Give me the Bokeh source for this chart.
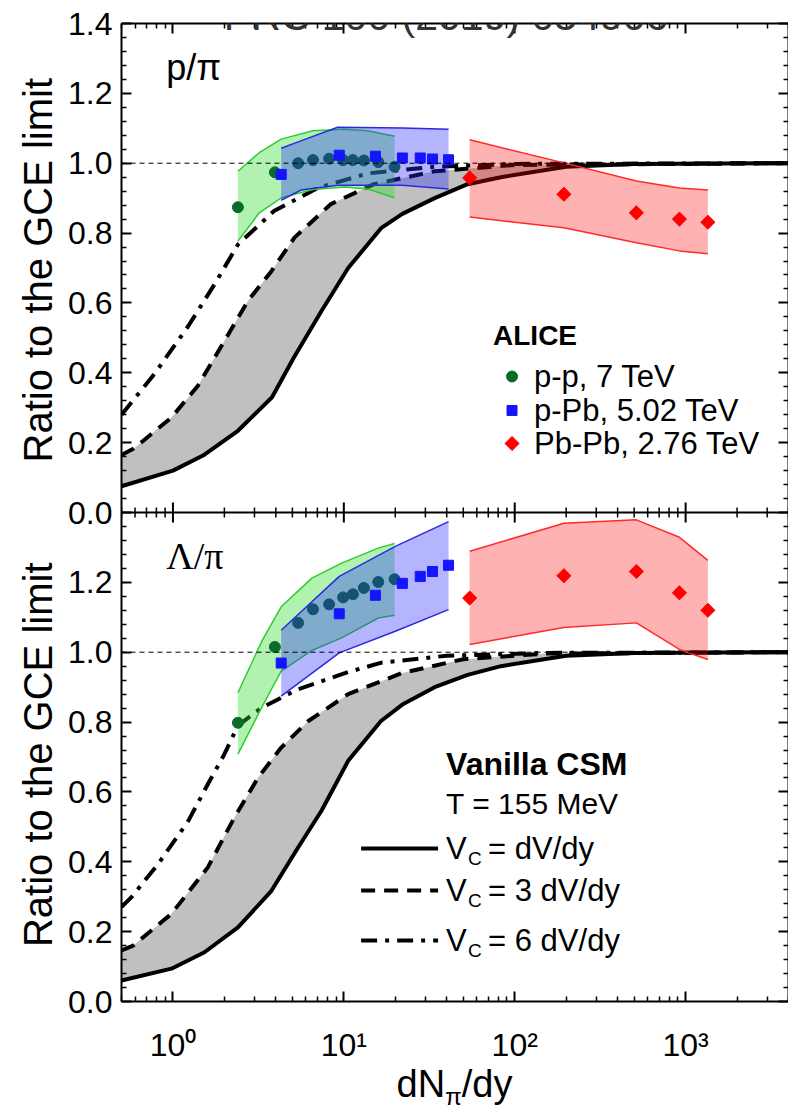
import numpy as np
from bokeh.plotting import figure
from bokeh.layouts import column
from bokeh.models import (Range1d, LinearAxis, LogAxis, FixedTicker,
                          CustomJSTickFormatter, Span, Label, Div)
from bokeh.embed import file_html
from bokeh.resources import INLINE

FONT = "Liberation Sans"
SERIF = "Liberation Serif"

# ---------------- data ----------------
# Vanilla CSM curves, p/pi (top panel)
pp_solid_x = [0.5, 1.0, 1.5, 2.4, 3.8, 5.1, 7.4, 10.6, 16.6, 22, 34, 53, 83, 200, 500, 4000]
pp_solid_y = [0.075, 0.12, 0.163, 0.234, 0.33, 0.444, 0.577, 0.70, 0.815, 0.855, 0.90, 0.94, 0.96, 0.99, 0.998, 1.0]
pp_dash_x = [0.5, 0.59, 0.98, 1.4, 2.0, 2.75, 3.77, 5.14, 8.4, 15, 34, 100, 4000]
pp_dash_y = [0.165, 0.183, 0.272, 0.363, 0.491, 0.606, 0.691, 0.787, 0.883, 0.94, 0.977, 0.995, 1.0]
pp_dd_x = [0.5, 0.78, 1.23, 1.75, 2.4, 3.9, 7.1, 13.9, 34, 100, 4000]
pp_dd_y = [0.28, 0.397, 0.534, 0.653, 0.767, 0.863, 0.93, 0.971, 0.99, 0.998, 1.0]

# Vanilla CSM curves, Lambda/pi (bottom panel)
lp_solid_x = [0.5, 0.98, 1.53, 2.4, 3.77, 5.4, 7.4, 10.6, 16.5, 22, 34, 53, 83, 200, 500, 4000]
lp_solid_y = [0.06, 0.094, 0.141, 0.212, 0.317, 0.441, 0.546, 0.689, 0.803, 0.85, 0.90, 0.935, 0.96, 0.99, 0.998, 1.0]
lp_dash_x = [0.5, 0.585, 0.98, 1.6, 2.29, 3.15, 4.3, 6.2, 10.6, 16.6, 21.7, 50, 150, 4000]
lp_dash_y = [0.146, 0.16, 0.251, 0.384, 0.527, 0.641, 0.727, 0.803, 0.88, 0.917, 0.94, 0.98, 0.996, 1.0]
lp_dd_x = [0.5, 0.57, 0.82, 1.23, 1.6, 2.0, 2.4, 3.3, 5.4, 10.6, 16.6, 40, 150, 4000]
lp_dd_y = [0.27, 0.298, 0.394, 0.517, 0.622, 0.708, 0.79, 0.841, 0.894, 0.943, 0.97, 0.99, 0.998, 1.0]

# ALICE p-p 7 TeV
ppx = [2.4, 3.95, 5.4, 6.6, 8.2, 9.9, 11.3, 13.1, 15.9, 19.8]
ppy_top = [0.874, 0.974, 1.0, 1.009, 1.013, 1.009, 1.009, 1.008, 1.003, 0.99]
ppy_bot = [0.798, 1.015, 1.084, 1.123, 1.137, 1.157, 1.166, 1.184, 1.201, 1.209]
pp_band_x_top = [2.4, 3.2, 4.3, 6.6, 10.1, 13.8, 19.8]
pp_band_lo_top = [0.777, 0.858, 0.901, 0.925, 0.932, 0.926, 0.901]
pp_band_hi_top = [0.977, 1.03, 1.069, 1.093, 1.097, 1.093, 1.077]
pp_band_x_bot = [2.4, 3.3, 4.3, 6.5, 9.7, 15.9, 19.8]
pp_band_lo_bot = [0.708, 0.841, 0.946, 1.005, 1.041, 1.098, 1.106]
pp_band_hi_bot = [0.884, 1.03, 1.13, 1.212, 1.255, 1.298, 1.311]

# ALICE p-Pb 5.02 TeV
ppbx = [4.3, 9.4, 15.3, 22.0, 28.0, 33.0, 41.0]
ppby_top = [0.968, 1.023, 1.02, 1.015, 1.015, 1.012, 1.01]
ppby_bot = [0.969, 1.11, 1.163, 1.197, 1.217, 1.231, 1.249]
ppb_band_x_top = [4.3, 5.6, 9.2, 22, 41]
ppb_band_lo_top = [0.894, 0.923, 0.937, 0.937, 0.926]
ppb_band_hi_top = [1.043, 1.064, 1.103, 1.101, 1.097]
ppb_band_x_bot = [4.3, 9.4, 20, 41]
ppb_band_lo_bot = [0.874, 0.998, 1.06, 1.122]
ppb_band_hi_bot = [1.063, 1.217, 1.303, 1.374]

# ALICE Pb-Pb 2.76 TeV
pbx = [54.5, 194, 515, 920, 1350]
pby_top = [0.958, 0.911, 0.858, 0.84, 0.831]
pb_band_lo_top = [0.846, 0.815, 0.772, 0.749, 0.741]
pb_band_hi_top = [1.067, 1.001, 0.949, 0.929, 0.923]
pby_bot = [1.155, 1.219, 1.231, 1.17, 1.12]
pb_band_lo_bot = [1.022, 1.071, 1.084, 1.008, 0.979]
pb_band_hi_bot = [1.289, 1.369, 1.379, 1.329, 1.263]

X_MAJOR = [1, 10, 100, 1000]
PANEL_H = 1.4          # each panel spans 0 .. 1.4 on its own y axis
Y_TITLE = "Ratio to the GCE limit"

# ---------------- geometry helpers ----------------
XMIN, XMAX = 0.5, 4000
X_MINOR = [m * 10 ** k for k in range(-1, 4) for m in range(2, 10) if XMIN <= m * 10 ** k <= XMAX]
Y_MAJOR = [round(0.2 * i, 1) for i in range(15)]
Y_MINOR = [round(i * 0.04, 2) for i in range(71) if i % 5 != 0]
FRAME_TOP, FRAME_H = 23, 978
X0PX, DEC = 171.7, 171.0
PXU = FRAME_H / (2 * PANEL_H)


def xpx(px):
    return 10 ** ((px - X0PX) / DEC)


def Y(py):
    return (FRAME_TOP + FRAME_H - py) / PXU


def up(vals):
    return [v + PANEL_H for v in vals]


GREEN_FILL, GREEN_LINE, DKGREEN = "#33dd33", "#2ecc2e", "#0b6b2b"
BLUE_FILL, BLUE_LINE, BLUE_MK = "#2828ff", "#2a2ae0", "#1414ff"
RED_FILL, RED_LINE, RED_MK = "#ff0000", "#ff2a2a", "#ff0000"


def style_axis(ax, labels):
    ax.axis_line_width = 2
    ax.axis_line_color = "black"
    ax.major_tick_line_width = 2
    ax.minor_tick_line_width = 1.5
    ax.major_tick_in = 10
    ax.major_tick_out = 0
    ax.minor_tick_in = 5
    ax.minor_tick_out = 0
    if labels:
        ax.major_label_text_font = FONT
        ax.major_label_text_font_size = "32px"
        ax.major_label_text_color = "black"
        ax.major_label_standoff = 9
    else:
        ax.formatter = CustomJSTickFormatter(code="return ''")
        ax.major_label_text_font_size = "0px"
        ax.major_label_standoff = 0


p = figure(x_axis_type="log", x_range=Range1d(XMIN, XMAX), y_range=Range1d(0, 2 * PANEL_H),
           frame_width=667, frame_height=FRAME_H, min_border_left=121, min_border_right=0,
           min_border_top=FRAME_TOP, min_border_bottom=64,
           x_axis_location=None, y_axis_location=None,
           toolbar_location=None, output_backend="svg", outline_line_color=None)
p.grid.visible = False

# left axis: one title per panel (both panels have the same title, centred on each panel)
yl = LinearAxis(ticker=FixedTicker(ticks=Y_MAJOR, minor_ticks=Y_MINOR),
                axis_label=Y_TITLE + "\u00a0" * 9 + Y_TITLE)
style_axis(yl, True)
yl.formatter = CustomJSTickFormatter(code="""
    const v = tick > 1.39 ? tick - 1.4 : tick;
    return Math.abs(v).toFixed(1);""")
yl.axis_label_text_font = FONT
yl.axis_label_text_font_size = "40px"
yl.axis_label_text_font_style = "normal"
yl.axis_label_text_color = "black"
yl.axis_label_standoff = 5
p.add_layout(yl, "left")
yr = LinearAxis(ticker=FixedTicker(ticks=Y_MAJOR, minor_ticks=Y_MINOR))
style_axis(yr, False)
p.add_layout(yr, "right")
xt = LogAxis(ticker=FixedTicker(ticks=X_MAJOR, minor_ticks=X_MINOR))
style_axis(xt, False)
p.add_layout(xt, "above")
xb = LogAxis(ticker=FixedTicker(ticks=X_MAJOR, minor_ticks=X_MINOR))
style_axis(xb, True)
xb.formatter = CustomJSTickFormatter(code="""
    const e = Math.round(Math.log10(tick));
    const sup = {"-1": "\u207b\u00b9", "0": "\u2070", "1": "\u00b9", "2": "\u00b2", "3": "\u00b3"};
    return "10" + sup[String(e)];""")
xb.major_label_standoff = 25
p.add_layout(xb, "below")

# junction between the two panels: axis line with ticks on both sides
p.add_layout(Span(location=PANEL_H, dimension="width", line_color="black", line_width=2))
maj_len, min_len = 10 / PXU, 5 / PXU
p.segment(x0=X_MAJOR, x1=X_MAJOR, y0=[PANEL_H - maj_len] * len(X_MAJOR),
          y1=[PANEL_H + maj_len] * len(X_MAJOR), line_color="black", line_width=2)
p.segment(x0=X_MINOR, x1=X_MINOR, y0=[PANEL_H - min_len] * len(X_MINOR),
          y1=[PANEL_H + min_len] * len(X_MINOR), line_color="black", line_width=1.5)


def draw_data(sx, sy, dx, dy, ddx, ddy,
              ppbx_, pplo, pphi, ppy,
              ppbbx, ppblo, ppbhi, ppby,
              pblo, pbhi, pby, ref):
    p.patch(x=list(sx) + list(dx)[::-1], y=list(sy) + list(dy)[::-1],
            fill_color="#c0c0c0", line_color=None)
    p.line(sx, sy, line_width=4, color="black")
    p.line(dx, dy, line_width=4, color="black", line_dash="14 9")
    p.line(ddx, ddy, line_width=4, color="black", line_dash="16 8 4 8")
    p.add_layout(Span(location=ref, dimension="width", line_color="black",
                      line_width=1, line_dash="5 4"))
    # p-p
    p.varea(x=ppbx_, y1=pplo, y2=pphi, fill_color=GREEN_FILL, fill_alpha=0.38)
    p.line(ppbx_, pplo, color=GREEN_LINE, line_width=1.5)
    p.line(ppbx_, pphi, color=GREEN_LINE, line_width=1.5)
    p.scatter(ppx, ppy, marker="circle", size=11, color=DKGREEN)
    # p-Pb
    p.varea(x=ppbbx, y1=ppblo, y2=ppbhi, fill_color=BLUE_FILL, fill_alpha=0.35)
    p.line(ppbbx, ppblo, color=BLUE_LINE, line_width=1.5)
    p.line(ppbbx, ppbhi, color=BLUE_LINE, line_width=1.5)
    p.scatter(ppbx, ppby, marker="square", size=10, color=BLUE_MK)
    # Pb-Pb
    p.varea(x=pbx, y1=pblo, y2=pbhi, fill_color=RED_FILL, fill_alpha=0.3)
    p.line(pbx, pblo, color=RED_LINE, line_width=1.5)
    p.line(pbx, pbhi, color=RED_LINE, line_width=1.5)
    p.scatter(pbx, pby, marker="square", angle=np.pi / 4, size=10, color=RED_MK)


def lab(x, y, text, size, font=FONT, style="normal", align="left",
        baseline="middle", color="black"):
    p.add_layout(Label(x=x, y=y, text=text, text_font=font, text_font_size=size,
                       text_font_style=style, text_align=align, text_baseline=baseline,
                       text_color=color))


# bottom panel (Lambda/pi)
draw_data(lp_solid_x, lp_solid_y, lp_dash_x, lp_dash_y, lp_dd_x, lp_dd_y,
          pp_band_x_bot, pp_band_lo_bot, pp_band_hi_bot, ppy_bot,
          ppb_band_x_bot, ppb_band_lo_bot, ppb_band_hi_bot, ppby_bot,
          pb_band_lo_bot, pb_band_hi_bot, pby_bot, 1.0)
# top panel (p/pi), shifted up by one panel height
draw_data(pp_solid_x, up(pp_solid_y), pp_dash_x, up(pp_dash_y), pp_dd_x, up(pp_dd_y),
          pp_band_x_top, up(pp_band_lo_top), up(pp_band_hi_top), up(ppy_top),
          ppb_band_x_top, up(ppb_band_lo_top), up(ppb_band_hi_top), up(ppby_top),
          up(pb_band_lo_top), up(pb_band_hi_top), up(pby_top), 1.0 + PANEL_H)

# title (cut at the top edge, as in the original)
lab(xpx(445), Y(15), "PRC 100 (2019) 054906", "41px", align="center",
    baseline="alphabetic", color="#333333")

# panel labels
lab(xpx(165), Y(67), "p/\u03c0", "36px")
lab(xpx(165), Y(555), "\u039b/\u03c0", "38px", font=SERIF)

# ALICE legend (top panel)
lab(xpx(492), Y(335), "ALICE", "28px", style="bold")
p.scatter([xpx(511)], [Y(376)], marker="circle", size=11, color=DKGREEN)
p.scatter([xpx(511)], [Y(410)], marker="square", size=10, color=BLUE_MK)
p.scatter([xpx(511)], [Y(443)], marker="square", angle=np.pi / 4, size=10, color=RED_MK)
lab(xpx(533), Y(376), "p-p, 7 TeV", "31px")
lab(xpx(533), Y(410), "p-Pb, 5.02 TeV", "31px")
lab(xpx(533), Y(443), "Pb-Pb, 2.76 TeV", "31px")

# Vanilla CSM legend (bottom panel)
lab(xpx(445), Y(763), "Vanilla CSM", "32px", style="bold")
lab(xpx(445), Y(803), "T = 155 MeV", "30px")
dashes = [None, "14 9", "16 8 4 8"]
rows = [(848, "= dV/dy"), (890, "= 3 dV/dy"), (940, "= 6 dV/dy")]
for (py, txt), dsh in zip(rows, dashes):
    kw = {} if dsh is None else {"line_dash": dsh}
    p.line([xpx(360), xpx(437)], [Y(py), Y(py)], line_width=4, color="black", **kw)
    lab(xpx(445), Y(py), "V", "31px")
    lab(xpx(467), Y(py + 10), "C", "19px")
    lab(xpx(487), Y(py), txt, "31px")

# x-axis title dN_pi/dy (HTML, for the subscript)
xtitle = Div(
    text=("<div style=\"width:667px;margin-left:121px;text-align:center;"
          "font-family:'Liberation Sans';font-size:38px;line-height:38px;color:black;"
          "white-space:nowrap\">dN<span style=\"font-size:24px;position:relative;"
          "top:8px\">\u03c0</span>/dy</div>"),
    width=788, height=42, margin=(0, 0, 0, 0))

layout = column(p, xtitle, spacing=0)
open("out.html", "w").write(file_html(layout, INLINE))
